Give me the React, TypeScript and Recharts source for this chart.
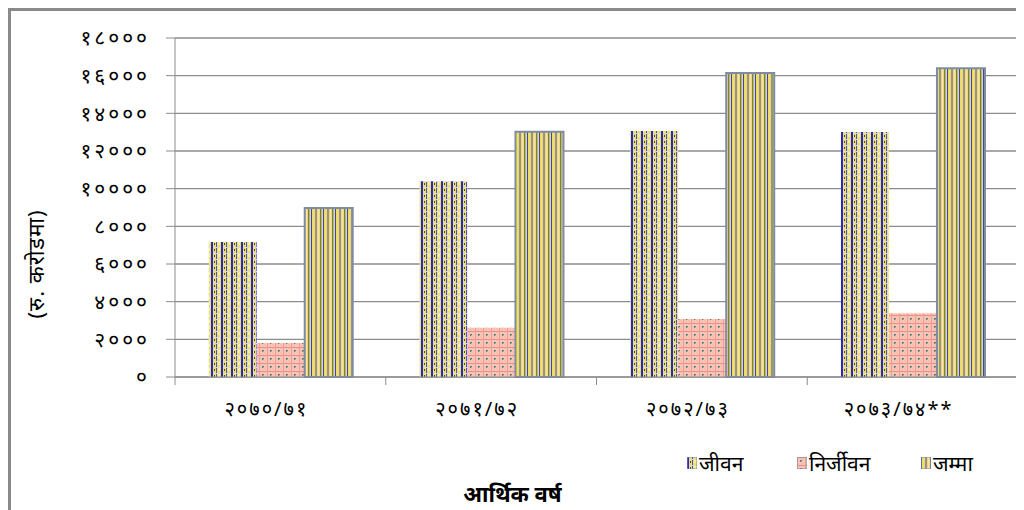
import React from "react";
import {
  BarChart,
  Bar,
  XAxis,
  YAxis,
  CartesianGrid,
  Legend,
} from "recharts";

// आर्थिक वर्ष
const years = ["२०७०/७१", "२०७१/७२", "२०७२/७३", "२०७३/७४**"];
// (रु. करोडमा)
const jiwan = [7170, 10400, 13060, 13010];
const nirjiwan = [1800, 2620, 3080, 3380];
const jamma = [8970, 13020, 16140, 16390];

const yTicks = [0, 2000, 4000, 6000, 8000, 10000, 12000, 14000, 16000, 18000];
const yTickLabels = ["०", "२०००", "४०००", "६०००", "८०००", "१००००", "१२०००", "१४०००", "१६०००", "१८०००"];

const seriesNames = { jiwan: "जीवन", nirjiwan: "निर्जीवन", jamma: "जम्मा" };

const data = years.map((y, i) => ({
  year: y,
  jiwan: jiwan[i],
  nirjiwan: nirjiwan[i],
  jamma: jamma[i],
}));

const FONT = "'Noto Sans', 'Lohit Devanagari', 'FreeSans', sans-serif";
const AXIS = "#8c8c8c";
const CAT_W = 843 / 4;

function Patterns() {
  return (
    <defs>
      <pattern id="pJiwan" width="10" height="6" patternUnits="userSpaceOnUse">
        <rect width="10" height="6" fill="#f1e44a" />
        <rect x="0" y="0" width="2" height="6" fill="#2424e4" />
        <rect x="5" y="0" width="1" height="6" fill="#4a4ae0" />
        <rect x="2" y="2" width="8" height="1" fill="#d9d9e6" />
        <rect x="7" y="3" width="2" height="3" fill="#f8f0a0" />
        <rect x="3" y="4" width="1" height="2" fill="#3838d8" />
      </pattern>
      <pattern id="pNirjiwan" width="8" height="8" patternUnits="userSpaceOnUse">
        <rect width="8" height="8" fill="#f6c4b2" />
        <rect x="0" y="0" width="8" height="1" fill="#f08a8a" />
        <rect x="0" y="0" width="1" height="8" fill="#f29a9a" />
        <rect x="3" y="3" width="2" height="2" fill="#5878a8" />
        <rect x="4" y="4" width="1" height="1" fill="#c8c040" />
      </pattern>
      <pattern id="pJamma" width="12" height="4" patternUnits="userSpaceOnUse">
        <rect width="12" height="4" fill="#efcbb6" />
        <rect x="0" y="0" width="1" height="4" fill="#2a4fa8" />
        <rect x="2" y="0" width="1" height="4" fill="#f0ec1a" />
        <rect x="4" y="0" width="2" height="4" fill="#93a050" />
        <rect x="7" y="0" width="1" height="4" fill="#f6f070" />
        <rect x="9" y="0" width="1" height="4" fill="#6b7a8c" />
        <rect x="10" y="0" width="1" height="4" fill="#c8c020" />
      </pattern>
    </defs>
  );
}

function XTick(props: any) {
  const { x, y, payload, index } = props;
  const half = CAT_W / 2;
  return (
    <g>
      <line x1={x - half} y1={y - 8} x2={x - half} y2={y} stroke={AXIS} />
      {index === years.length - 1 && (
        <line x1={x + half} y1={y - 8} x2={x + half} y2={y} stroke={AXIS} />
      )}
      <text
        x={x - 14}
        y={y + 31}
        textAnchor="middle"
        fontFamily={FONT}
        fontSize={20}
        letterSpacing={2}
        fill="#000"
      >
        {payload.value}
      </text>
    </g>
  );
}

function LegendContent() {
  const items = [
    { key: "jiwan", fill: "url(#pJiwan)", w: 110 },
    { key: "nirjiwan", fill: "url(#pNirjiwan)", w: 124 },
    { key: "jamma", fill: "url(#pJamma)", w: 80 },
  ];
  return (
    <div style={{ display: "flex", alignItems: "center", fontFamily: FONT, fontSize: 21 }}>
      {items.map((it) => (
        <div key={it.key} style={{ display: "flex", alignItems: "center", width: it.w }}>
          <svg width={10} height={12} style={{ marginRight: 2 }}>
            <rect width={10} height={12} fill={it.fill} stroke="#8090a8" strokeWidth={1} />
          </svg>
          <span>{seriesNames[it.key as keyof typeof seriesNames]}</span>
        </div>
      ))}
    </div>
  );
}

export default function App() {
  return (
    <div
      style={{
        width: 1013,
        height: 502,
        borderTop: "3px solid #8a8a8a",
        borderLeft: "3px solid #8a8a8a",
        background: "#fff",
      }}
    >
      <BarChart
        width={1010}
        height={500}
        data={data}
        margin={{ top: 27, right: 3, left: 0, bottom: 0 }}
        barCategoryGap="16%"
        barGap={0}
      >
        <Patterns />
        <CartesianGrid vertical={false} stroke={AXIS} strokeWidth={1.3} />
        <XAxis
          dataKey="year"
          height={134}
          axisLine={{ stroke: AXIS }}
          tickLine={false}
          tick={<XTick />}
          interval={0}
          label={{
            content: (p: any) => (
              <text
                x={p.viewBox.x + p.viewBox.width / 2 - 84}
                y={p.viewBox.y + 125}
                textAnchor="middle"
                fontFamily={FONT}
                fontSize={22}
                fontWeight="bold"
                fill="#000"
              >
                आर्थिक वर्ष
              </text>
            ),
          }}
        />
        <YAxis
          width={164}
          domain={[0, 18000]}
          ticks={yTicks}
          interval={0}
          axisLine={{ stroke: AXIS }}
          tickLine={{ stroke: AXIS }}
          tickSize={9}
          tickMargin={16}
          tickFormatter={(v: number) => yTickLabels[yTicks.indexOf(v)]}
          tick={{ fontFamily: FONT, fontSize: 21, fill: "#000", letterSpacing: 3 }}
          label={{
            content: (p: any) => (
              <text
                x={24}
                y={p.viewBox.y + 226}
                transform={`rotate(-90 24 ${p.viewBox.y + 226})`}
                textAnchor="middle"
                dominantBaseline="central"
                fontFamily={FONT}
                fontSize={22}
                letterSpacing={1}
                fill="#000"
              >
                (रु. करोडमा)
              </text>
            ),
          }}
        />
        <Legend
          layout="horizontal"
          verticalAlign="middle"
          align="center"
          content={<LegendContent />}
          wrapperStyle={{ position: "absolute", left: 676, top: 438, width: 330 }}
        />
        <Bar dataKey="jiwan" name={seriesNames.jiwan} fill="url(#pJiwan)" isAnimationActive={false} />
        <Bar dataKey="nirjiwan" name={seriesNames.nirjiwan} fill="url(#pNirjiwan)" isAnimationActive={false} />
        <Bar
          dataKey="jamma"
          name={seriesNames.jamma}
          fill="url(#pJamma)"
          stroke="#7d8ca3"
          strokeWidth={2}
          isAnimationActive={false}
        />
      </BarChart>
    </div>
  );
}
